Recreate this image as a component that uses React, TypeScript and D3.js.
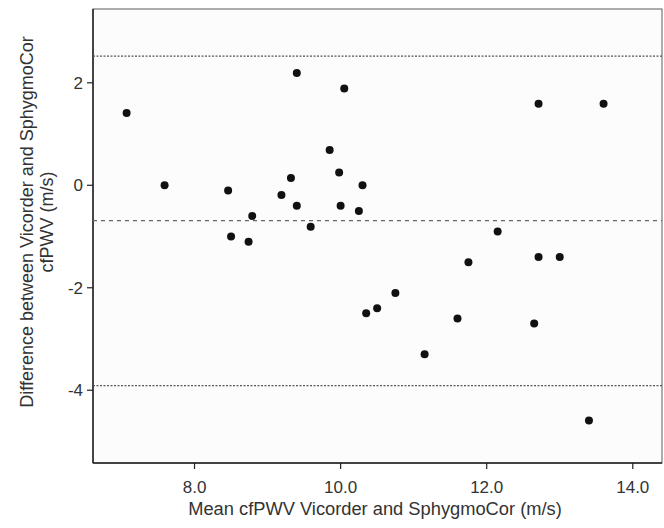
import React from "react";
import * as d3 from "d3";

const meanX = [7.07, 7.59, 8.46, 8.50, 8.74, 8.79, 9.19, 9.32, 9.40, 9.40, 9.59, 9.85, 9.98, 10.0, 10.05, 10.25, 10.30, 10.35, 10.50, 10.75, 11.15, 11.60, 11.75, 12.15, 12.71, 13.60, 12.71, 13.00, 12.65, 13.40];
const diffY = [1.41, 0.0, -0.1, -1.0, -1.1, -0.6, -0.19, 0.14, 2.19, -0.4, -0.81, 0.69, 0.25, -0.40, 1.89, -0.50, 0.0, -2.5, -2.40, -2.10, -3.30, -2.60, -1.50, -0.90, 1.59, 1.59, -1.40, -1.40, -2.70, -4.59];
const xTicks = [8, 10, 12, 14];
const yTicks = [2, 0, -2, -4];
const upperLoA = 2.52;
const meanDiff = -0.69;
const lowerLoA = -3.91;

export default function App() {
  const W = 664, H = 528;
  const left = 93, right = 662, top = 9, bottom = 463;
  const x = d3.scaleLinear().domain([6.61, 14.40]).range([left, right]);
  const y = d3.scaleLinear().domain([-5.42, 3.44]).range([bottom, top]);
  const font = "Liberation Sans, Arial, sans-serif";
  return (
    <svg width={W} height={H} style={{ position: "absolute", left: 0, top: 0 }}>
      <rect x={0} y={0} width={W} height={H} fill="#fff" />
      <rect x={left} y={top} width={right - left} height={bottom - top} fill="#fcfcfc" stroke="#777" strokeWidth={1.2} />
      <line x1={left} x2={left} y1={top} y2={bottom} stroke="#222" strokeWidth={1.5} />
      <line x1={left} x2={right} y1={bottom} y2={bottom} stroke="#222" strokeWidth={1.5} />
      {[upperLoA, lowerLoA].map((v, i) => (
        <line key={i} x1={left} x2={right} y1={y(v)} y2={y(v)} stroke="#555" strokeWidth={1.2} strokeDasharray="2,1.5" />
      ))}
      <line x1={left} x2={right} y1={y(meanDiff)} y2={y(meanDiff)} stroke="#666" strokeWidth={1.2} strokeDasharray="4,4" />
      {xTicks.map((t) => (
        <g key={t}>
          <line x1={x(t)} x2={x(t)} y1={bottom} y2={bottom + 6} stroke="#222" strokeWidth={1.2} />
          <text x={x(t)} y={493} textAnchor="middle" fontFamily={font} fontSize={17} fill="#333">{t.toFixed(1)}</text>
        </g>
      ))}
      {yTicks.map((t) => (
        <g key={t}>
          <line x1={left - 6} x2={left} y1={y(t)} y2={y(t)} stroke="#222" strokeWidth={1.2} />
          <text x={83} y={y(t) + 6} textAnchor="end" fontFamily={font} fontSize={17} fill="#333">{t}</text>
        </g>
      ))}
      {meanX.map((mx, i) => (
        <circle key={i} cx={x(mx)} cy={y(diffY[i])} r={4} fill="#111" />
      ))}
      <text x={375} y={515} textAnchor="middle" fontFamily={font} fontSize={18.3} fill="#333">Mean cfPWV Vicorder and SphygmoCor (m/s)</text>
      <text transform={`translate(33, 222) rotate(-90)`} textAnchor="middle" fontFamily={font} fontSize={18} fill="#333">
        <tspan x={0} dy={0}>Difference between Vicorder and SphygmoCor</tspan>
        <tspan x={0} dy={20}>cfPWV (m/s)</tspan>
      </text>
    </svg>
  );
}
